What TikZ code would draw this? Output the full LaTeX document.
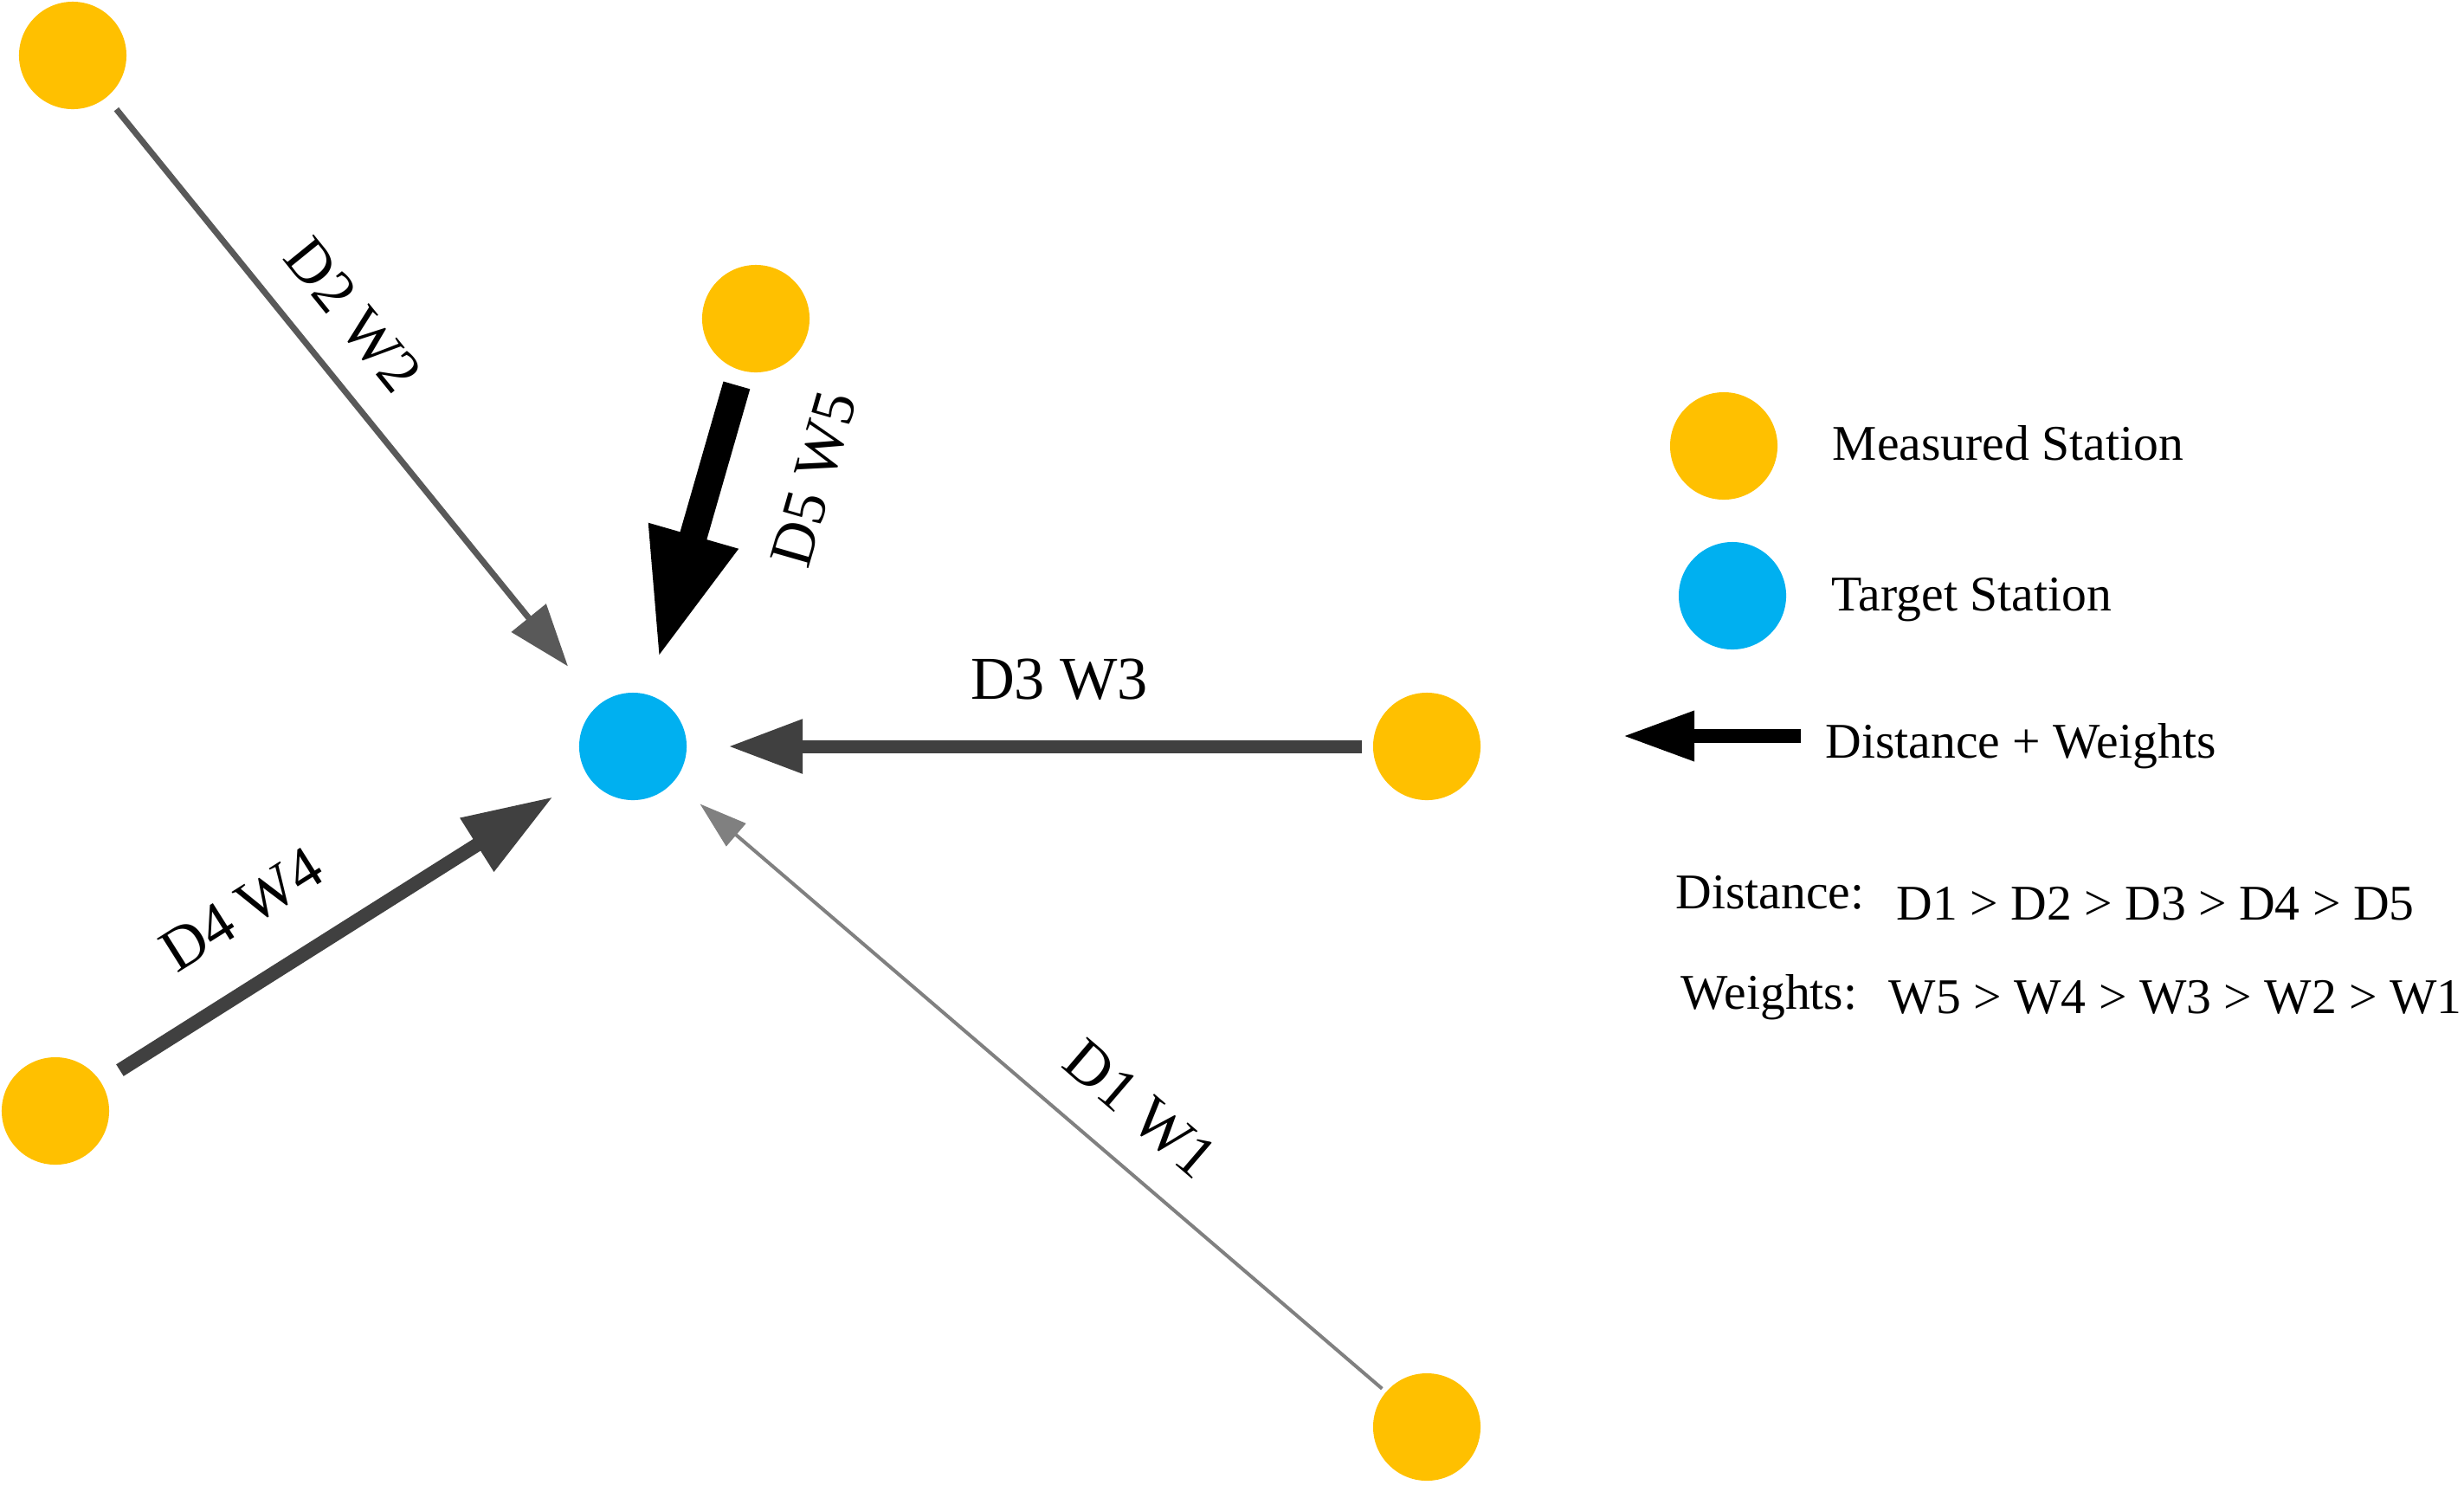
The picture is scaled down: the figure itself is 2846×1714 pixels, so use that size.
\documentclass[tikz,border=0pt]{standalone}
\usepackage{fontspec}
\setmainfont{Liberation Serif}
\usetikzlibrary{arrows.meta}

\definecolor{stationyellow}{HTML}{FFC000}
\definecolor{targetblue}{HTML}{00B0F0}
\definecolor{arrowgray}{HTML}{595959}
\definecolor{arrowdark}{HTML}{404040}
\definecolor{arrowlight}{HTML}{808080}

\tikzset{
  measured/.style={circle, fill=stationyellow, minimum size=1.24cm, inner sep=0pt, outer sep=0pt},
  target/.style={circle, fill=targetblue, minimum size=1.24cm, inner sep=0pt, outer sep=0pt},
  weightlabel/.style={font=\fontsize{20}{24}\selectfont, text=black, inner sep=0pt, sloped},
  legendtext/.style={font=\fontsize{16.4}{20}\selectfont, inner sep=0pt, anchor=base west}
}

\begin{document}
\begin{tikzpicture}[x=0.01cm, y=-0.01cm]
  \useasboundingbox (0,0) rectangle (2846,1714);

  % Stations
  \node[target]   (T)  at (731,862) {};
  \node[measured] (M1) at (1648,1648) {};
  \node[measured] (M2) at (84,64) {};
  \node[measured] (M3) at (1648,862) {};
  \node[measured] (M4) at (64,1283) {};
  \node[measured] (M5) at (873,368) {};

  % Weighted arrows towards the target
  \draw[arrowlight, line width=0.04cm, shorten <=0.06cm, shorten >=0.40cm,
        -{Triangle[length=0.55cm, width=0.34cm]}]
    (M1) -- (T) node[weightlabel, pos=0.395, above=0.38cm] {D1 W1};
  \draw[arrowgray, line width=0.07cm, shorten <=0.18cm, shorten >=0.57cm,
        -{Triangle[length=0.72cm, width=0.50cm]}]
    (M2) -- (T) node[weightlabel, pos=0.415, above=0.35cm] {D2 W2};
  \draw[arrowdark, line width=0.15cm, shorten <=0.13cm, shorten >=0.48cm,
        -{Triangle[length=0.86cm, width=0.59cm]}]
    (M3) -- (T) node[weightlabel, pos=0.457, above=0.455cm] {D3 W3};
  \draw[arrowdark, line width=0.16cm, shorten <=0.26cm, shorten >=0.47cm,
        -{Triangle[length=1.04cm, width=0.69cm]}]
    (M4) -- (T) node[weightlabel, pos=0.367, above=0.50cm] {D4 W4};
  \draw[black, line width=0.32cm, shorten <=0.18cm, shorten >=0.42cm,
        -{Triangle[length=1.49cm, width=0.98cm]}]
    (M5) -- (T) node[weightlabel, pos=0.25, below=0.76cm] {D5 W5};

  % Legend
  \node[measured] (LM) at (1991,515) {};
  \node[target]   (LT) at (2001,688) {};
  \coordinate (LAstart) at (2080,850);
  \coordinate (LAend) at (1874,850);
  \draw[black, line width=0.16cm, -{Triangle[length=0.83cm, width=0.54cm]}] (LAstart) -- (LAend);

  \node[legendtext] (LMtext) at (2116,531) {Measured Station};
  \node[legendtext] (LTtext) at (2115,705) {Target Station};
  \node[legendtext] (LAtext) at (2108,875) {Distance + Weights};

  \node[legendtext] (Dtitle) at (1935,1049) {Distance:};
  \node[legendtext] (Dorder) at (2190,1062) {D1 > D2 > D3 > D4 > D5};
  \node[legendtext] (Wtitle) at (1941,1165) {Weights:};
  \node[legendtext] (Worder) at (2181,1170) {W5 > W4 > W3 > W2 > W1};
\end{tikzpicture}
\end{document}
